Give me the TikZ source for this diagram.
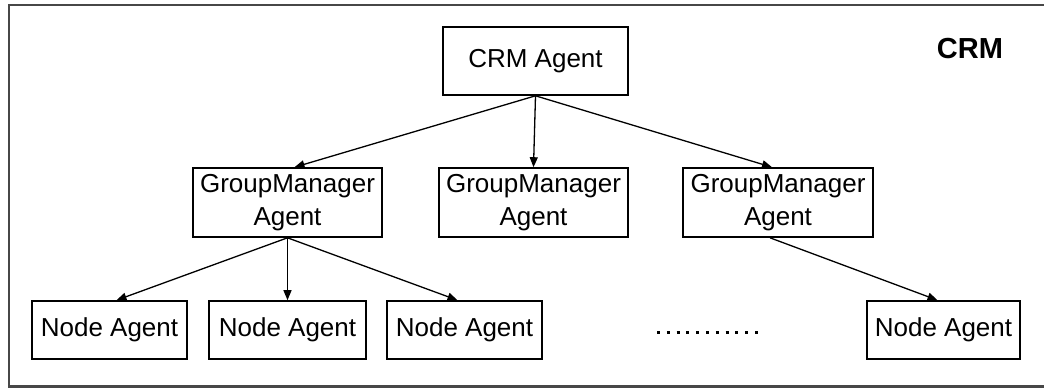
\documentclass[tikz,border=0pt]{standalone}
\usepackage{fontspec}
\setmainfont{Liberation Sans}
\usetikzlibrary{arrows.meta}
\begin{document}
\begin{tikzpicture}[x=1pt,y=-1pt,
  agent/.style={draw=black,line width=1.6pt,inner sep=0pt,align=center,
    font=\fontsize{26}{33}\selectfont},
  link/.style={line width=1.3pt,-{Triangle[length=10pt,width=8pt]}},
  frame/.style={draw=black!72,line width=2.2pt}]
\useasboundingbox (0,0) rectangle (1044,389);
\fill[white] (0,0) rectangle (1044,389);
\draw[frame] (1044,5) -- (9,5) -- (9,386.5) -- (1044,386.5);
\node[font=\fontsize{29}{34}\selectfont\bfseries] (lbl) at (970,49) {CRM};
\node[agent,minimum width=185pt,minimum height=68pt] (crm) at (535.5,61) {CRM Agent};
\node[agent,minimum width=189pt,minimum height=69pt] (gm1) at (287.5,202.5) {GroupManager\\Agent};
\node[agent,minimum width=189pt,minimum height=69pt] (gm2) at (533.5,202.5) {GroupManager\\Agent};
\node[agent,minimum width=190pt,minimum height=69pt] (gm3) at (778,202.5) {GroupManager\\Agent};
\node[agent,minimum width=155pt,minimum height=58pt] (n1) at (109.5,330) {Node Agent};
\node[agent,minimum width=157pt,minimum height=58pt] (n2) at (287.5,330) {Node Agent};
\node[agent,minimum width=155pt,minimum height=58pt] (n3) at (464.5,330) {Node Agent};
\node[agent,minimum width=153pt,minimum height=58pt] (n4) at (943.5,330) {Node Agent};
\coordinate (dotsA) at (657,332);
\coordinate (dotsB) at (762,332);
\draw[line width=3pt,dash pattern=on 3pt off 6.8pt] (dotsA) -- (dotsB);
\draw[link] (crm.south) -- ([xshift=7pt]gm1.north);
\draw[link] (crm.south) -- (gm2.north);
\draw[link] (crm.south) -- ([xshift=-6pt]gm3.north);
\draw[link] (gm1.south) -- ([xshift=7pt]n1.north);
\draw[link] (gm1.south) -- (n2.north);
\draw[link] (gm1.south) -- ([xshift=-7pt]n3.north);
\draw[link] ([xshift=-8pt]gm3.south) -- ([xshift=-6pt]n4.north);
\end{tikzpicture}
\end{document}
